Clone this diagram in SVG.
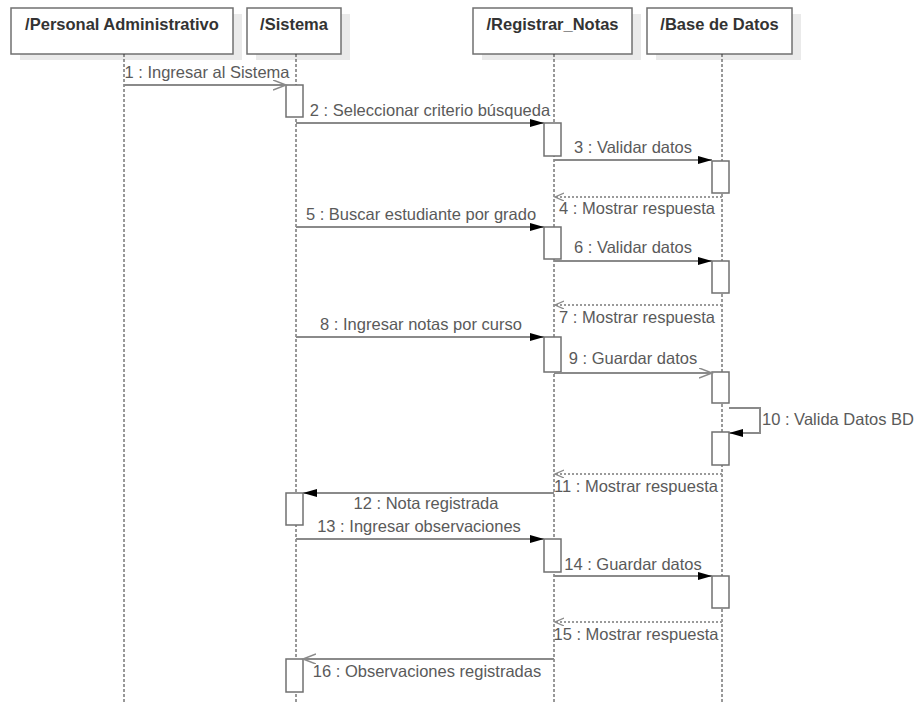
<svg xmlns="http://www.w3.org/2000/svg" width="923" height="704" viewBox="0 0 923 704">
  <style>
    .head { fill: #ffffff; stroke: #707070; stroke-width: 1.5; }
    .shadow { fill: #eaeaea; }
    .title { font-family: "Liberation Sans", Arial, sans-serif; font-size: 16.5px; font-weight: bold; fill: #333333; text-anchor: middle; }
    .life { stroke: #333333; stroke-width: 1; stroke-dasharray: 3 2; fill: none; }
    .act { fill: #ffffff; stroke: #707070; stroke-width: 1.5; }
    .msg { stroke: #8a8a8a; stroke-width: 2; fill: none; }
    .ret { stroke: #9a9a9a; stroke-width: 2; stroke-dasharray: 2 2; fill: none; }
    .lbl { font-family: "Liberation Sans", Arial, sans-serif; font-size: 16.5px; fill: #5a5a5a; text-anchor: middle; }
    .lbl-s { font-family: "Liberation Sans", Arial, sans-serif; font-size: 16.5px; fill: #5a5a5a; text-anchor: start; }
  </style>
  <defs>
    <marker id="filled" markerUnits="userSpaceOnUse" markerWidth="16" markerHeight="10" refX="14" refY="4" orient="auto">
      <path d="M0,0 L14,4 L0,8 z" fill="#000000"/>
    </marker>
    <marker id="open" markerUnits="userSpaceOnUse" markerWidth="16" markerHeight="12" refX="13" refY="5" orient="auto">
      <path d="M0,0 L13,5 L0,10" fill="none" stroke="#8a8a8a" stroke-width="1.5"/>
    </marker>
    <marker id="back" markerUnits="userSpaceOnUse" markerWidth="12" markerHeight="10" refX="9" refY="4" orient="auto">
      <path d="M0,0 L9,4 L0,8" fill="none" stroke="#8a8a8a" stroke-width="1.3"/>
    </marker>
  </defs>

  <rect width="923" height="704" fill="#ffffff"/>

  <!-- Personal Administrativo -->
  <g id="personal">
    <rect class="shadow" x="20" y="14" width="222" height="46"/>
    <rect class="head" x="11" y="8" width="222" height="46"/>
    <text class="title" x="122" y="30">/Personal Administrativo</text>
    <line class="life" x1="124" y1="54" x2="124" y2="704"/>
  </g>

  <!-- Sistema -->
  <g id="sistema">
    <rect class="shadow" x="256" y="14" width="94" height="46"/>
    <rect class="head" x="247" y="8" width="94" height="46"/>
    <text class="title" x="294" y="30">/Sistema</text>
    <line class="life" x1="296" y1="54" x2="296" y2="704"/>
    <rect class="act" x="286" y="85" width="17" height="32"/>
    <rect class="act" x="286" y="493" width="17" height="32"/>
    <rect class="act" x="286" y="659" width="17" height="33"/>
  </g>

  <!-- Registrar_Notas -->
  <g id="registrar">
    <rect class="shadow" x="482" y="14" width="159" height="46"/>
    <rect class="head" x="473" y="8" width="159" height="46"/>
    <text class="title" x="552.5" y="30">/Registrar_Notas</text>
    <line class="life" x1="554" y1="54" x2="554" y2="704"/>
    <rect class="act" x="544" y="123" width="17" height="33"/>
    <rect class="act" x="544" y="227" width="17" height="32"/>
    <rect class="act" x="544" y="337" width="17" height="35"/>
    <rect class="act" x="544" y="539" width="17" height="33"/>
  </g>

  <!-- Base de Datos -->
  <g id="basedatos">
    <rect class="shadow" x="656" y="14" width="145" height="46"/>
    <rect class="head" x="647" y="8" width="145" height="46"/>
    <text class="title" x="719.5" y="30">/Base de Datos</text>
    <line class="life" x1="722" y1="54" x2="722" y2="704"/>
    <rect class="act" x="712" y="161" width="17" height="32"/>
    <rect class="act" x="712" y="261" width="17" height="32"/>
    <rect class="act" x="712" y="372" width="17" height="31"/>
    <rect class="act" x="712" y="432" width="17" height="33"/>
    <rect class="act" x="712" y="576" width="17" height="32"/>
  </g>

  <!-- Messages -->
  <g id="connectors">
    <line class="msg" x1="124" y1="85" x2="286" y2="85" marker-end="url(#open)"/>
    <text class="lbl" x="207" y="78">1 : Ingresar al Sistema</text>

    <line class="msg" x1="296" y1="123" x2="544" y2="123" marker-end="url(#filled)"/>
    <text class="lbl" x="430" y="116">2 : Seleccionar criterio búsqueda</text>

    <line class="msg" x1="554" y1="160" x2="712" y2="160" marker-end="url(#filled)"/>
    <text class="lbl" x="633" y="153">3 : Validar datos</text>

    <line class="ret" x1="722" y1="197" x2="555" y2="197" marker-end="url(#back)"/>
    <text class="lbl" x="637" y="214">4 : Mostrar respuesta</text>

    <line class="msg" x1="296" y1="227" x2="544" y2="227" marker-end="url(#filled)"/>
    <text class="lbl" x="421" y="220">5 : Buscar estudiante por grado</text>

    <line class="msg" x1="554" y1="261" x2="712" y2="261" marker-end="url(#filled)"/>
    <text class="lbl" x="633" y="253">6 : Validar datos</text>

    <line class="ret" x1="722" y1="305" x2="555" y2="305" marker-end="url(#back)"/>
    <text class="lbl" x="637" y="323">7 : Mostrar respuesta</text>

    <line class="msg" x1="296" y1="337" x2="544" y2="337" marker-end="url(#filled)"/>
    <text class="lbl" x="421" y="330">8 : Ingresar notas por curso</text>

    <line class="msg" x1="554" y1="373" x2="712" y2="373" marker-end="url(#open)"/>
    <text class="lbl" x="633" y="364">9 : Guardar datos</text>

    <path class="msg" d="M729,408 H760 V433 H729" marker-end="url(#filled)"/>
    <text class="lbl-s" x="762" y="425">10 : Valida Datos BD</text>

    <line class="ret" x1="722" y1="474" x2="555" y2="474" marker-end="url(#back)"/>
    <text class="lbl" x="636" y="492">11 : Mostrar respuesta</text>

    <line class="msg" x1="554" y1="493" x2="303" y2="493" marker-end="url(#filled)"/>
    <text class="lbl" x="426" y="509">12 : Nota registrada</text>

    <line class="msg" x1="296" y1="539" x2="544" y2="539" marker-end="url(#filled)"/>
    <text class="lbl" x="419" y="532">13 : Ingresar observaciones</text>

    <line class="msg" x1="554" y1="576" x2="712" y2="576" marker-end="url(#filled)"/>
    <text class="lbl" x="633" y="570">14 : Guardar datos</text>

    <line class="ret" x1="722" y1="622" x2="555" y2="622" marker-end="url(#back)"/>
    <text class="lbl" x="636" y="640">15 : Mostrar respuesta</text>

    <line class="msg" x1="554" y1="659" x2="303" y2="659" marker-end="url(#open)"/>
    <text class="lbl" x="427" y="677">16 : Observaciones registradas</text>
  </g>
</svg>
